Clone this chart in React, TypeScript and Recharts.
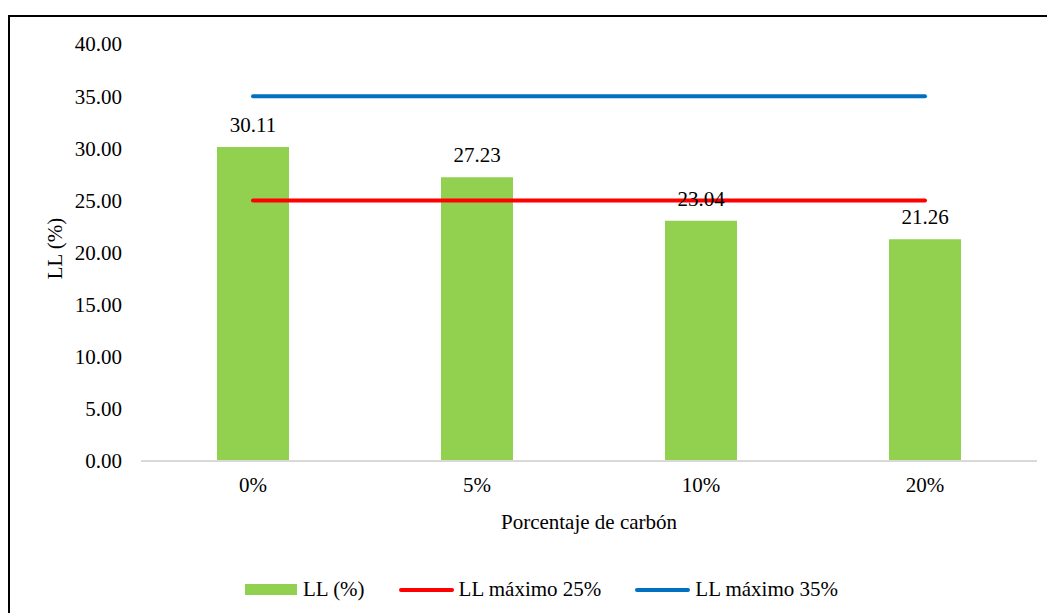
import {
  ComposedChart,
  Bar,
  Line,
  XAxis,
  YAxis,
  LabelList,
} from "recharts";

const categories = ["0%", "5%", "10%", "20%"];
const llValues = [30.11, 27.23, 23.04, 21.26];
const llMax25 = [25, 25, 25, 25];
const llMax35 = [35, 35, 35, 35];
const yTicks = [0, 5, 10, 15, 20, 25, 30, 35, 40];

const GREEN = "#92D050";
const RED = "#FF0000";
const BLUE = "#0070C0";
const FONT = "Liberation Serif";
const FS = 21;

const data = categories.map((c, i) => ({
  name: c,
  ll: llValues[i],
  max25: llMax25[i],
  max35: llMax35[i],
}));

const legendItems = [
  { label: "LL (%)", color: GREEN, kind: "bar" },
  { label: "LL máximo 25%", color: RED, kind: "line" },
  { label: "LL máximo 35%", color: BLUE, kind: "line" },
];

export default function App() {
  return (
    <div
      style={{
        position: "relative",
        marginTop: 7,
        width: 1060,
        height: 610,
        border: "2px solid #000",
        boxSizing: "border-box",
        fontFamily: FONT,
      }}
    >
      <ComposedChart
        width={1045}
        height={590}
        data={data}
        margin={{ top: 27, right: 18, bottom: 66, left: 61 }}
        style={{ fontFamily: FONT }}
      >
        <XAxis
          dataKey="name"
          stroke="#d9d9d9"
          strokeWidth={2}
          tickLine={false}
          tickSize={0}
          tickMargin={16}
          height={80}
          tick={{ fontSize: FS, fill: "#000", fontFamily: FONT }}
          label={{
            value: "Porcentaje de carbón",
            position: "insideBottom",
            offset: 12,
            fontSize: FS,
            fill: "#000",
            fontFamily: FONT,
          }}
        />
        <YAxis
          domain={[0, 40]}
          ticks={yTicks}
          interval={0}
          axisLine={false}
          tickLine={false}
          tickSize={0}
          tickMargin={19}
          width={70}
          tickFormatter={(v: number) => v.toFixed(2)}
          tick={{ fontSize: FS, fill: "#000", fontFamily: FONT }}
          label={{
            content: (props: any) => {
              const vb = props.viewBox || {};
              const cx = 45;
              const cy = (vb.y ?? 27) + (vb.height ?? 417) / 2 - 4;
              return (
                <text
                  x={cx}
                  y={cy}
                  transform={`rotate(-90, ${cx}, ${cy})`}
                  textAnchor="middle"
                  dominantBaseline="central"
                  fontSize={FS}
                  fontFamily={FONT}
                  fill="#000"
                >
                  LL (%)
                </text>
              );
            },
          }}
        />
        <Bar dataKey="ll" fill={GREEN} barSize={72} isAnimationActive={false}>
          <LabelList
            dataKey="ll"
            position="top"
            offset={15}
            formatter={(v: any) => Number(v).toFixed(2)}
            style={{ fontSize: FS, fill: "#000", fontFamily: FONT }}
          />
        </Bar>
        <Line
          dataKey="max25"
          stroke={RED}
          strokeWidth={4}
          strokeLinecap="round"
          dot={false}
          activeDot={false}
          isAnimationActive={false}
        />
        <Line
          dataKey="max35"
          stroke={BLUE}
          strokeWidth={4}
          strokeLinecap="round"
          dot={false}
          activeDot={false}
          isAnimationActive={false}
        />
      </ComposedChart>
      <div
        style={{
          position: "absolute",
          top: 560,
          left: 235,
          display: "flex",
          alignItems: "center",
          fontSize: FS,
          color: "#000",
          whiteSpace: "nowrap",
        }}
      >
        {legendItems.map((it, i) => (
          <div
            key={it.label}
            style={{
              display: "flex",
              alignItems: "center",
              marginLeft: i === 0 ? 0 : 34,
            }}
          >
            {it.kind === "bar" ? (
              <span
                style={{
                  display: "inline-block",
                  width: 52,
                  height: 11,
                  background: it.color,
                  marginRight: 6,
                }}
              />
            ) : (
              <span
                style={{
                  display: "inline-block",
                  width: 55,
                  height: 4,
                  borderRadius: 2,
                  background: it.color,
                  marginRight: 5,
                }}
              />
            )}
            <span>{it.label}</span>
          </div>
        ))}
      </div>
    </div>
  );
}
